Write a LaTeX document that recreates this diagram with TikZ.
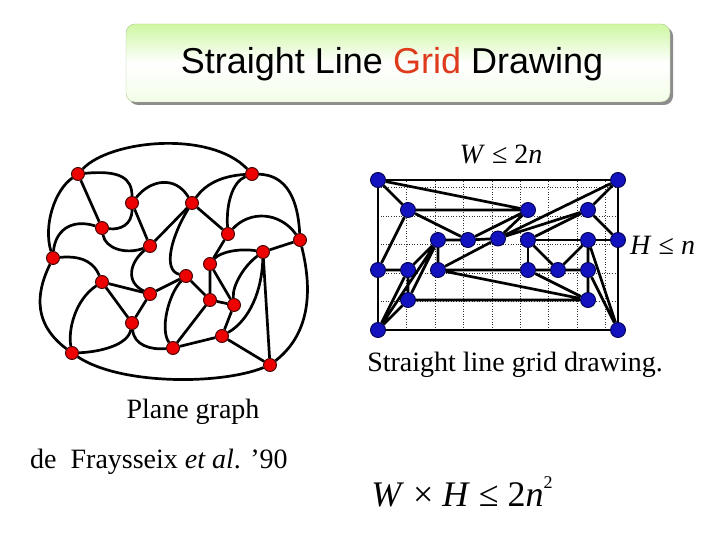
\documentclass[tikz,border=0pt]{standalone}
\usepackage{fontspec}
\setmainfont{Liberation Serif}
\newfontfamily\titlefont{Liberation Sans}
\usepackage{xcolor}
\definecolor{titlegreen}{RGB}{206, 247, 162}
\definecolor{titlered}{RGB}{222, 58, 28}
\definecolor{vertexred}{RGB}{236, 0, 0}
\definecolor{vertexblue}{RGB}{18, 18, 190}
\usepackage{tikz}
\usetikzlibrary{shadows}

\begin{document}
\begin{tikzpicture}[x=1pt, y=-1pt,
    titlebox/.style={rectangle, rounded corners=9pt, minimum width=544pt, minimum height=78pt, top color=titlegreen, bottom color=titlegreen!25, middle color=white, draw=titlegreen!60!gray, line width=0.4pt, drop shadow={shadow xshift=3pt, shadow yshift=-3pt, fill=black!45, opacity=1}},
    pvertex/.style={circle, fill=vertexred, draw=black!75!red, line width=0.9pt, minimum size=13pt, inner sep=0pt},
    gvertex/.style={circle, fill=vertexblue, draw=black!70!blue, line width=0.9pt, minimum size=15pt, inner sep=0pt},
    edge/.style={line width=2.7pt, black},
    gridline/.style={line width=0.6pt, dotted, black!80},
    caption/.style={font=\fontsize{28}{32}\selectfont, inner sep=0pt}
  ]
    \useasboundingbox (0,0) rectangle (720,540);

    % title
    \node[titlebox] (title) at (398,63) {};
    \node[font=\titlefont\fontsize{36}{40}\selectfont] (titletext) at (392,64) {Straight Line \textcolor{titlered}{Grid} Drawing};

    % plane graph
    \node[pvertex] (p1) at (78,174) {};
    \node[pvertex] (p2) at (252,174) {};
    \node[pvertex] (p3) at (132,203) {};
    \node[pvertex] (p4) at (192,203) {};
    \node[pvertex] (p5) at (102,228) {};
    \node[pvertex] (p6) at (228,234) {};
    \node[pvertex] (p7) at (300,240) {};
    \node[pvertex] (p8) at (53,258) {};
    \node[pvertex] (p9) at (150,246) {};
    \node[pvertex] (p10) at (263,252) {};
    \node[pvertex] (p11) at (210,264) {};
    \node[pvertex] (p12) at (186,276) {};
    \node[pvertex] (p13) at (102,282) {};
    \node[pvertex] (p14) at (150,294) {};
    \node[pvertex] (p15) at (210,300) {};
    \node[pvertex] (p16) at (234,305) {};
    \node[pvertex] (p17) at (132,323) {};
    \node[pvertex] (p18) at (222,336) {};
    \node[pvertex] (p19) at (173,348) {};
    \node[pvertex] (p20) at (72,353) {};
    \node[pvertex] (p21) at (270,365) {};

    \draw[edge] (p1) .. controls (110,140) and (210,130) .. (p2);
    \draw[edge] (p1) .. controls (55,190) and (43,225) .. (p8);
    \draw[edge] (p8) .. controls (40,285) and (28,320) .. (p20);
    \draw[edge] (p20) .. controls (120,385) and (220,385) .. (p21);
    \draw[edge] (p7) .. controls (310,280) and (315,330) .. (p21);
    \draw[edge] (p2) .. controls (287,175) and (298,200) .. (p7);
    \draw[edge] (p2) .. controls (232,182) and (226,205) .. (p6);
    \draw[edge] (p2) .. controls (220,176) and (205,185) .. (p4);
    \draw[edge] (p3) .. controls (150,180) and (175,175) .. (p4);
    \draw[edge] (p4) .. controls (172,235) and (162,270) .. (p12);
    \draw[edge] (p1) .. controls (120,170) and (132,178) .. (p3);
    \draw[edge] (p3) .. controls (132,225) and (120,230) .. (p5);
    \draw[edge] (p5) .. controls (70,218) and (55,232) .. (p8);
    \draw[edge] (p5) .. controls (105,248) and (125,255) .. (p9);
    \draw[edge] (p9) .. controls (130,262) and (125,282) .. (p14);
    \draw[edge] (p6) .. controls (250,210) and (280,212) .. (p7);
    \draw[edge] (p10) .. controls (240,248) and (220,252) .. (p11);
    \draw[edge] (p10) .. controls (245,265) and (232,285) .. (p16);
    \draw[edge] (p10) .. controls (262,290) and (250,320) .. (p18);
    \draw[edge] (p12) .. controls (168,295) and (160,330) .. (p19);
    \draw[edge] (p17) .. controls (134,345) and (150,350) .. (p19);
    \draw[edge] (p8) .. controls (85,255) and (95,265) .. (p13);
    \draw[edge] (p13) .. controls (75,300) and (68,330) .. (p20);
    \draw[edge] (p20) .. controls (100,352) and (128,345) .. (p17);
    \draw[edge] (p1) -- (p5);
    \draw[edge] (p3) -- (p9) -- (p4) -- (p6) -- (p11) -- (p15) -- (p19) -- (p18) -- (p21) -- (p10) -- (p7);
    \draw[edge] (p11) -- (p16) -- (p15) -- (p12) -- (p14) -- (p13) -- (p17) -- (p14);
    \draw[edge] (p16) -- (p18);

    % grid drawing
    \begin{scope}[shift={(378,330)}, x=30pt, y=30pt]
      \draw[gridline] (0,0) grid (8,5);
      \node[gvertex] (g05) at (0,5) {};
      \node[gvertex] (g85) at (8,5) {};
      \node[gvertex] (g14) at (1,4) {};
      \node[gvertex] (g54) at (5,4) {};
      \node[gvertex] (g74) at (7,4) {};
      \node[gvertex] (g23) at (2,3) {};
      \node[gvertex] (g33) at (3,3) {};
      \node[gvertex] (g43) at (4,3.05) {};
      \node[gvertex] (g53) at (5,3) {};
      \node[gvertex] (g73) at (7,3) {};
      \node[gvertex] (g83) at (8,3) {};
      \node[gvertex] (g02) at (0,2) {};
      \node[gvertex] (g12) at (1,2) {};
      \node[gvertex] (g22) at (2,2) {};
      \node[gvertex] (g52) at (5,2) {};
      \node[gvertex] (g62) at (6,2) {};
      \node[gvertex] (g72) at (7,2) {};
      \node[gvertex] (g11) at (1,1) {};
      \node[gvertex] (g71) at (7,1) {};
      \node[gvertex] (g00) at (0,0) {};
      \node[gvertex] (g80) at (8,0) {};
    \end{scope}

    \draw[edge] (g05) -- (g85) -- (g83) -- (g80) -- (g00) -- (g02) -- (g05);
    \draw[edge] (g05) -- (g14) -- (g54) -- (g05);
    \draw[edge] (g14) -- (g02) -- (g12) -- (g00);
    \draw[edge] (g14) -- (g33) -- (g54);
    \draw[edge] (g23) -- (g33) -- (g43) -- (g54);
    \draw[edge] (g43) -- (g74) -- (g85) -- (g43);
    \draw[edge] (g74) -- (g83);
    \draw[edge] (g53) -- (g74);
    \draw[edge] (g23) -- (g22) -- (g43);
    \draw[edge] (g23) -- (g12) -- (g11) -- (g00) -- (g23) -- (g11);
    \draw[edge] (g11) -- (g71) -- (g72) -- (g62) -- (g52) -- (g22) -- (g71);
    \draw[edge] (g52) -- (g53) -- (g73) -- (g83);
    \draw[edge] (g53) -- (g62) -- (g73) -- (g72) -- (g80) -- (g73);
    \draw[edge] (g52) -- (g71);

    % labels
    \node[caption] (wlabel) at (501,154) {\textit{W} ≤ 2\textit{n}};
    \node[caption, anchor=west] (hlabel) at (630,245) {\textit{H} ≤ \textit{n}};
    \node[caption] (gridcaption) at (515,365) {Straight line grid drawing.};
    \node[caption] (planecaption) at (193,412) {Plane graph};
    \node[caption, anchor=west] (credit) at (30,462) {de~~Fraysseix \textit{et al}. ’90};
    \node[font=\fontsize{36}{40}\selectfont, inner sep=0pt] (bound) at (462,492) {\textit{W} × \textit{H} ≤ 2\textit{n}\raisebox{0.5em}{\fontsize{18}{20}\selectfont 2}};
  \end{tikzpicture}
\end{document}
